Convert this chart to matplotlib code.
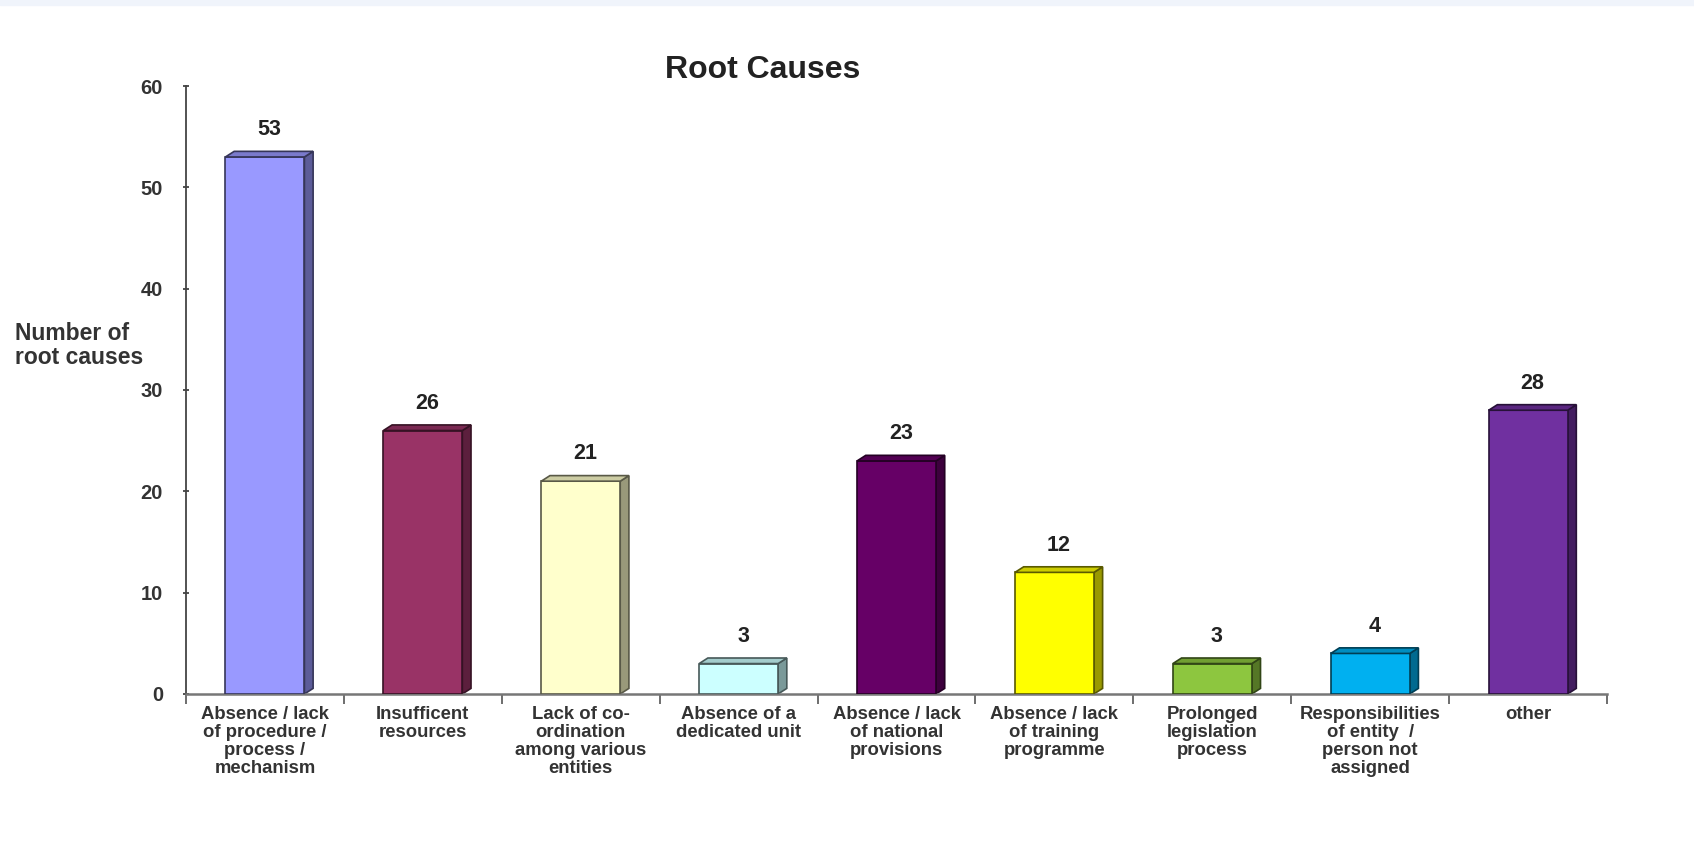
import numpy as np
import matplotlib
matplotlib.use('Agg')
import matplotlib.pyplot as plt
from matplotlib.patches import Polygon
from matplotlib.colors import to_rgb

plt.rcParams['font.family'] = ['Liberation Sans', 'DejaVu Sans']

# Root cause categories and counts
categories = [
    'Absence / lack\nof procedure /\nprocess /\nmechanism',
    'Insufficent\nresources',
    'Lack of co-\nordination\namong various\nentities',
    'Absence of a\ndedicated unit',
    'Absence / lack\nof national\nprovisions',
    'Absence / lack\nof training\nprogramme',
    'Prolonged\nlegislation\nprocess',
    'Responsibilities\nof entity  /\nperson not\nassigned',
    'other',
]
counts = [53, 26, 21, 3, 23, 12, 3, 4, 28]
bar_colors = ['#9999FF', '#993366', '#FFFFCC', '#CCFFFF', '#660066',
              '#FFFF00', '#8DC63F', '#00B0F0', '#7030A0']


def shade(color, k):
    r, g, b = to_rgb(color)
    return (r * k, g * k, b * k)


fig = plt.figure(figsize=(16.94, 8.49), dpi=100)
fig.patch.set_facecolor('white')
# thin light strip along the top edge
fig.add_artist(plt.Rectangle((0, 0.994), 1, 0.006, transform=fig.transFigure,
                             color='#F0F4FB', zorder=0))

ax = fig.add_axes([0.1098, 0.1826, 0.8389, 0.7161])
x = np.arange(len(counts))
width = 0.5
depth_x = 0.055   # side face depth in category units
depth_y = 0.55    # top face rise in data units

for xi, val, col in zip(x, counts, bar_colors):
    left = xi - width / 2
    right = xi + width / 2
    edge = shade(col, 0.35)
    # front face
    ax.bar(xi, val, width=width, color=col, edgecolor=edge, linewidth=1.2, zorder=3)
    # right side face
    side = Polygon([(right, 0), (right + depth_x, depth_y),
                    (right + depth_x, val + depth_y), (right, val)],
                   closed=True, facecolor=shade(col, 0.6), edgecolor=edge,
                   linewidth=1.2, zorder=2)
    ax.add_patch(side)
    # top face
    top = Polygon([(left, val), (left + depth_x, val + depth_y),
                   (right + depth_x, val + depth_y), (right, val)],
                  closed=True, facecolor=shade(col, 0.8), edgecolor=edge,
                  linewidth=1.2, zorder=4)
    ax.add_patch(top)
    ax.text(xi + depth_x / 2, val + depth_y + 1.1, str(val), ha='center', va='bottom',
            fontsize=15.5, fontweight='bold', color='#222222')

ax.set_xlim(-0.5, len(counts) - 0.5)
ax.set_ylim(0, 60)
ax.set_yticks(range(0, 61, 10))
ax.tick_params(axis='y', labelsize=14.5, colors='#333333', length=5, direction='inout',
               width=1.2, pad=14)
for lbl in ax.get_yticklabels():
    lbl.set_fontweight('bold')

# category boundaries carry the tick marks, labels sit in between
ax.set_xticks(np.arange(-0.5, len(counts), 1.0))
ax.set_xticklabels([])
ax.tick_params(axis='x', length=7, direction='out', width=1.2, colors='#555555')
for xi, lab in zip(x, categories):
    ax.text(xi, -1.2, lab, ha='center', va='top', fontsize=13.3, fontweight='bold',
            color='#333333', linespacing=1.08)

for s in ['top', 'right']:
    ax.spines[s].set_visible(False)
ax.spines['left'].set_color('#444444')
ax.spines['bottom'].set_color('#777777')
ax.spines['left'].set_linewidth(1.3)
ax.spines['bottom'].set_linewidth(1.8)

fig.text(0.450, 0.918, 'Root Causes', ha='center', va='center', fontsize=23,
         fontweight='bold', color='#222222')
fig.text(0.009, 0.593, 'Number of\nroot causes', ha='left', va='center', fontsize=16.5,
         fontweight='bold', color='#333333', linespacing=1.1)

fig.savefig('out.png', dpi=100)
